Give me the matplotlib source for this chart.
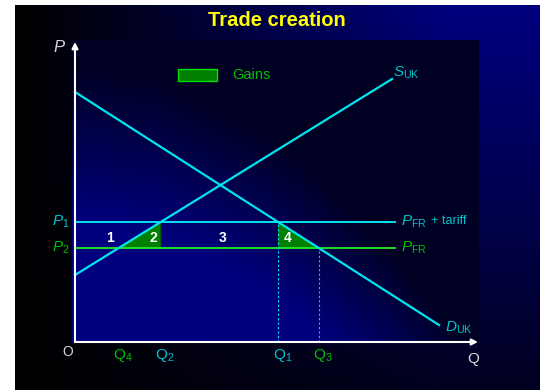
import matplotlib

matplotlib.use("Agg")
import matplotlib.pyplot as plt  # noqa: E402
import numpy as np  # noqa: E402
from matplotlib.patches import Polygon, Rectangle  # noqa: E402

plt.rcParams["mathtext.fontset"] = "custom"
plt.rcParams["mathtext.rm"] = "Liberation Sans"
plt.rcParams["mathtext.it"] = "Liberation Sans:italic"
plt.rcParams["font.family"] = ["Liberation Sans", "DejaVu Sans"]

# demand and supply lines (price at the ends of each line)
demand_q = [0, 364]
demand_p = [250, 17]
supply_q = [0, 317]
supply_p = [67, 263]

# prices
price_names = ["P1", "P2"]
price_values = [120, 94]  # P1 = P_FR + tariff, P2 = P_FR

# gain areas and labels
area_labels = ["1", "2", "3", "4"]
area_label_q = [35, 78, 148, 213]
area_label_p = 104

CYAN = "#00e4ee"
CYAN_TXT = "#00c4cc"
GREEN = "#22e022"
GREEN_TXT = "#00c000"
FILL = "#008000"
NAVY = np.array([0.0, 0.0, 0.5])


def demand_q_at(p):
    slope = (demand_p[1] - demand_p[0]) / (demand_q[1] - demand_q[0])
    return demand_q[0] + (p - demand_p[0]) / slope


def supply_q_at(p):
    slope = (supply_p[1] - supply_p[0]) / (supply_q[1] - supply_q[0])
    return supply_q[0] + (p - supply_p[0]) / slope


p1, p2 = price_values
q1 = demand_q_at(p1)
q3 = demand_q_at(p2)
q2 = supply_q_at(p1)
q4 = supply_q_at(p2)

fig = plt.figure(figsize=(5.4, 3.9), dpi=100, facecolor="white")

# slide background
bg = fig.add_axes([0, 0, 1, 1])
bg.set_xlim(0, 540)
bg.set_ylim(390, 0)
bg.axis("off")
xx, yy = np.meshgrid(np.linspace(0, 1, 200), np.linspace(1, 0, 200))
shade = np.clip(xx * 1.2, 0, 1) * (0.25 + 0.75 * yy)
bg.imshow(shade[..., None] * NAVY, extent=(15, 540, 390, 5), aspect="auto", interpolation="bilinear")

bg.text(277, 21, "Trade creation", color="#ffff00", fontsize=14.5, fontweight="bold",
        ha="center", va="center", family="Liberation Sans")

# chart panel
ax = fig.add_axes([72 / 540, 47 / 390, 407 / 540, 303 / 390])
ax.set_xlim(-3, 404)
ax.set_ylim(-1, 302)
ax.axis("off")
xf, yf = np.meshgrid(np.linspace(0, 1, 200), np.linspace(1, 0, 200))
s = 0.8 * xf ** 2 + 0.8 * yf
val = np.clip(1 - (s - 0.3) / 0.6, 0.28, 1)
ax.imshow(val[..., None] * NAVY, extent=(-3, 404, -1, 302), aspect="auto",
          interpolation="bilinear", zorder=0)

# gain triangles
ax.add_patch(Polygon([[q4, p2], [q2, p1], [q2, p2]], closed=True, facecolor=FILL,
                     edgecolor="#006400", lw=0.8, zorder=2))
ax.add_patch(Polygon([[q1, p1], [q1, p2], [q3, p2]], closed=True, facecolor=FILL,
                     edgecolor="#006400", lw=0.8, zorder=2))

# price lines
ax.plot([0, 320], [p1, p1], color=CYAN, lw=1.4, zorder=3)
ax.plot([0, 320], [p2, p2], color=GREEN, lw=1.4, zorder=3)

# demand and supply
ax.plot(demand_q, demand_p, color=CYAN, lw=1.6, zorder=4)
ax.plot(supply_q, supply_p, color=CYAN, lw=1.6, zorder=4)

# dropped quantity lines
ax.plot([q1, q1], [0, p1], color=CYAN, lw=0.8, ls=(0, (2, 2)), zorder=3)
ax.plot([q3, q3], [0, p2], color=GREEN, lw=0.8, ls=(0, (2, 2)), zorder=3)

# axes with arrows
ax.annotate("", xy=(0, 300), xytext=(0, 0),
            arrowprops=dict(arrowstyle="-|>", color="white", lw=1.5, mutation_scale=9,
                            shrinkA=0, shrinkB=0), zorder=5)
ax.annotate("", xy=(403, 0), xytext=(0, 0),
            arrowprops=dict(arrowstyle="-|>", color="white", lw=1.5, mutation_scale=9,
                            shrinkA=0, shrinkB=0), zorder=5)

# area labels
for label, q in zip(area_labels, area_label_q):
    ax.text(q, area_label_p, label, color="white", fontsize=10, fontweight="bold",
            ha="center", va="center", zorder=6)

# legend
ax.add_patch(Rectangle((103, 261), 39, 12, facecolor=FILL, edgecolor="#00e000", lw=1, zorder=3))
ax.text(157, 267, "Gains", color=GREEN_TXT, fontsize=10.5, ha="left", va="center")

# axis labels
ax.text(-16, 294, "P", color="#d8d8d8", fontsize=12, style="italic", ha="center", va="center", clip_on=False)
ax.text(-7, -10, "O", color="#d8d8d8", fontsize=10, ha="center", va="center", clip_on=False)
ax.text(398, -17, "Q", color="#d8d8d8", fontsize=11, ha="center", va="center", clip_on=False)

ax.text(-5, p1, r"$P_1$", color=CYAN_TXT, fontsize=11, ha="right", va="center", clip_on=False)
ax.text(-5, p2, r"$P_2$", color=GREEN_TXT, fontsize=11, ha="right", va="center", clip_on=False)
ax.text(326, p1, r"$P_{\mathrm{FR}}$", color=CYAN_TXT, fontsize=11, ha="left", va="center")
ax.text(356, p1 + 1, "+ tariff", color=CYAN_TXT, fontsize=9, ha="left", va="center")
ax.text(326, p2, r"$P_{\mathrm{FR}}$", color=GREEN_TXT, fontsize=11, ha="left", va="center")
ax.text(supply_q[1] + 1, supply_p[1] + 6, r"$S_{\mathrm{UK}}$", color=CYAN_TXT, fontsize=11,
        ha="left", va="center")
ax.text(demand_q[1] + 6, demand_p[1] - 3, r"$D_{\mathrm{UK}}$", color=CYAN_TXT, fontsize=11,
        ha="left", va="center")

# quantity labels
q_labels = [(q4, r"$\mathrm{Q}_4$", GREEN_TXT), (q2, r"$\mathrm{Q}_2$", CYAN_TXT),
            (q1, r"$\mathrm{Q}_1$", CYAN_TXT), (q3, r"$\mathrm{Q}_3$", GREEN_TXT)]
for q, label, color in q_labels:
    ax.annotate(label, xy=(q, 0), xytext=(-4, -10), textcoords="offset points",
                color=color, fontsize=11, ha="left", va="center", annotation_clip=False)

fig.savefig("out.png", dpi=100, facecolor="white")
